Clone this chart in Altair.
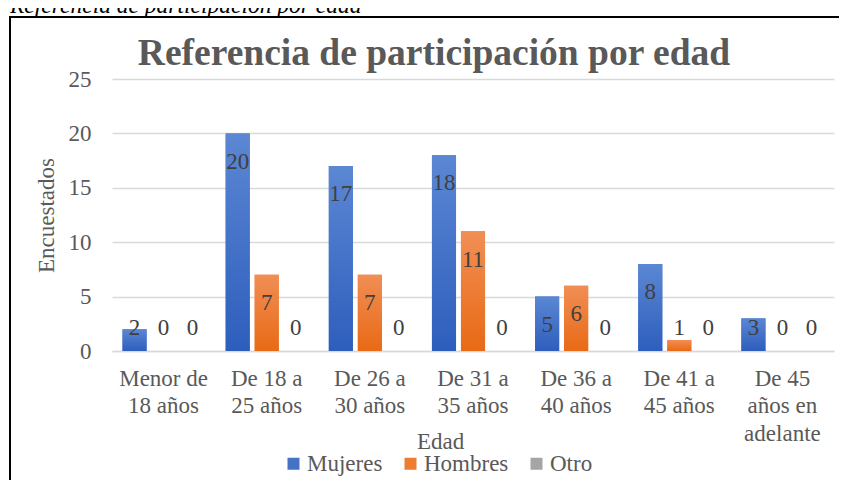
import altair as alt
import pandas as pd

# ---- data ----
categorias = ["Menor de\n18 años", "De 18 a\n25 años", "De 26 a\n30 años",
              "De 31 a\n35 años", "De 36 a\n40 años", "De 41 a\n45 años",
              "De 45\naños en\nadelante"]
series = ["Mujeres", "Hombres", "Otro"]
mujeres = [2, 20, 17, 18, 5, 8, 3]
hombres = [0, 7, 7, 11, 6, 1, 0]
otro = [0, 0, 0, 0, 0, 0, 0]

titulo = "Referencia de participación por edad"
leyenda_fig = "Referencia de participación por edad"

rows = []
for s, vals in zip(series, [mujeres, hombres, otro]):
    for c, v in zip(categorias, vals):
        rows.append({"edad": c, "serie": s, "valor": v})
df = pd.DataFrame(rows)

FONT = "Liberation Serif"
GRAY = "#595959"
FS = 23
colores = ["#4472C4", "#ED7D31", "#A5A5A5"]

def grad(top, bottom):
    return {"gradient": "linear", "x1": 0, "y1": 0, "x2": 0, "y2": 1,
            "stops": [{"offset": 0, "color": top}, {"offset": 1, "color": bottom}]}

x_enc = alt.X("edad:N", sort=categorias,
              scale=alt.Scale(domain=categorias, paddingInner=0.204, paddingOuter=0.102),
              axis=alt.Axis(title="Edad", labelExpr="split(datum.value, '\\n')",
                            labelAngle=0, labelFontSize=FS, labelFont=FONT,
                            labelColor=GRAY, labelLineHeight=27.5, labelPadding=16,
                            labelOverlap=False, ticks=False,
                            domainColor="#D9D9D9", domainWidth=1.5,
                            titleX=328, titleY=90, titleFontSize=FS, titleFont=FONT,
                            titleColor=GRAY, titleFontWeight="normal",
                            titleBaseline="middle", titleAlign="center"))
y_scale = alt.Scale(domain=[0, 25], nice=False)
y_enc = alt.Y("valor:Q", scale=y_scale,
              axis=alt.Axis(values=[0, 5, 10, 15, 20, 25], title="Encuestados",
                            grid=True, gridColor="#D9D9D9", gridWidth=1.5,
                            domain=False, ticks=False, labelPadding=21,
                            labelFontSize=FS, labelFont=FONT, labelColor=GRAY,
                            titleX=-66, titleY=136, titleAngle=270,
                            titleFontSize=FS, titleFont=FONT, titleColor=GRAY,
                            titleFontWeight="normal", titleBaseline="middle",
                            titleAlign="center"))
xo_enc = alt.XOffset("serie:N", sort=series,
                     scale=alt.Scale(domain=series, paddingInner=0.17, paddingOuter=0))

base = alt.Chart(df)

bars = base.mark_bar().encode(
    x=x_enc, y=y_enc, xOffset=xo_enc,
    color=alt.Color("serie:N", sort=series,
                    scale=alt.Scale(domain=series, range=colores),
                    legend=alt.Legend(title=None, orient="none", legendX=170, legendY=373,
                                      direction="horizontal", symbolType="square",
                                      symbolSize=144, labelFontSize=FS, labelFont=FONT,
                                      labelColor=GRAY, columnPadding=16, labelOffset=2,
                                      symbolStrokeWidth=0))
)

grad_m = base.transform_filter(alt.datum.serie == "Mujeres").mark_bar(
    fill=grad("#5B87D3", "#2E5EBD")).encode(x=x_enc, y=y_enc, xOffset=xo_enc)
grad_h = base.transform_filter(alt.datum.serie == "Hombres").mark_bar(
    fill=grad("#F18E55", "#E86A15")).encode(x=x_enc, y=y_enc, xOffset=xo_enc)

labels = base.transform_calculate(
    pos="max(datum.valor - 2.6, 2.1)"
).mark_text(font=FONT, fontSize=FS, color="#404040", baseline="middle").encode(
    x=x_enc, y=alt.Y("pos:Q", scale=y_scale), xOffset=xo_enc, text=alt.Text("valor:Q"))

title_txt = alt.Chart(pd.DataFrame({"t": [titulo]})).mark_text(
    font=FONT, fontSize=37.5, fontWeight="bold", color=GRAY, align="center",
    baseline="alphabetic").encode(x=alt.value(322), y=alt.value(-14), text="t:N")

caption = alt.Chart(pd.DataFrame({"t": [leyenda_fig]})).mark_text(
    font=FONT, fontSize=23.5, fontStyle="italic", color="#000000", align="left",
    baseline="alphabetic").encode(x=alt.value(-102), y=alt.value(-66), text="t:N")

frame_top = alt.Chart(pd.DataFrame({"a": [0]})).mark_rule(
    stroke="#000000", strokeWidth=2).encode(
    x=alt.value(-103), x2=alt.value(727), y=alt.value(-62))
frame_left = alt.Chart(pd.DataFrame({"a": [0]})).mark_rule(
    stroke="#000000", strokeWidth=2).encode(
    x=alt.value(-102), y=alt.value(-62), y2=alt.value(401))

chart = alt.layer(frame_top, frame_left, bars, grad_m, grad_h, labels, title_txt,
                  caption).properties(
    width=722, height=272,
    padding={"left": 104, "top": 71, "right": 6, "bottom": 130},
    autosize=alt.AutoSizeParams(type="none"),
    background="white",
).configure_view(stroke=None)

chart.save("out.html", embed_options={"renderer": "svg", "actions": False})
